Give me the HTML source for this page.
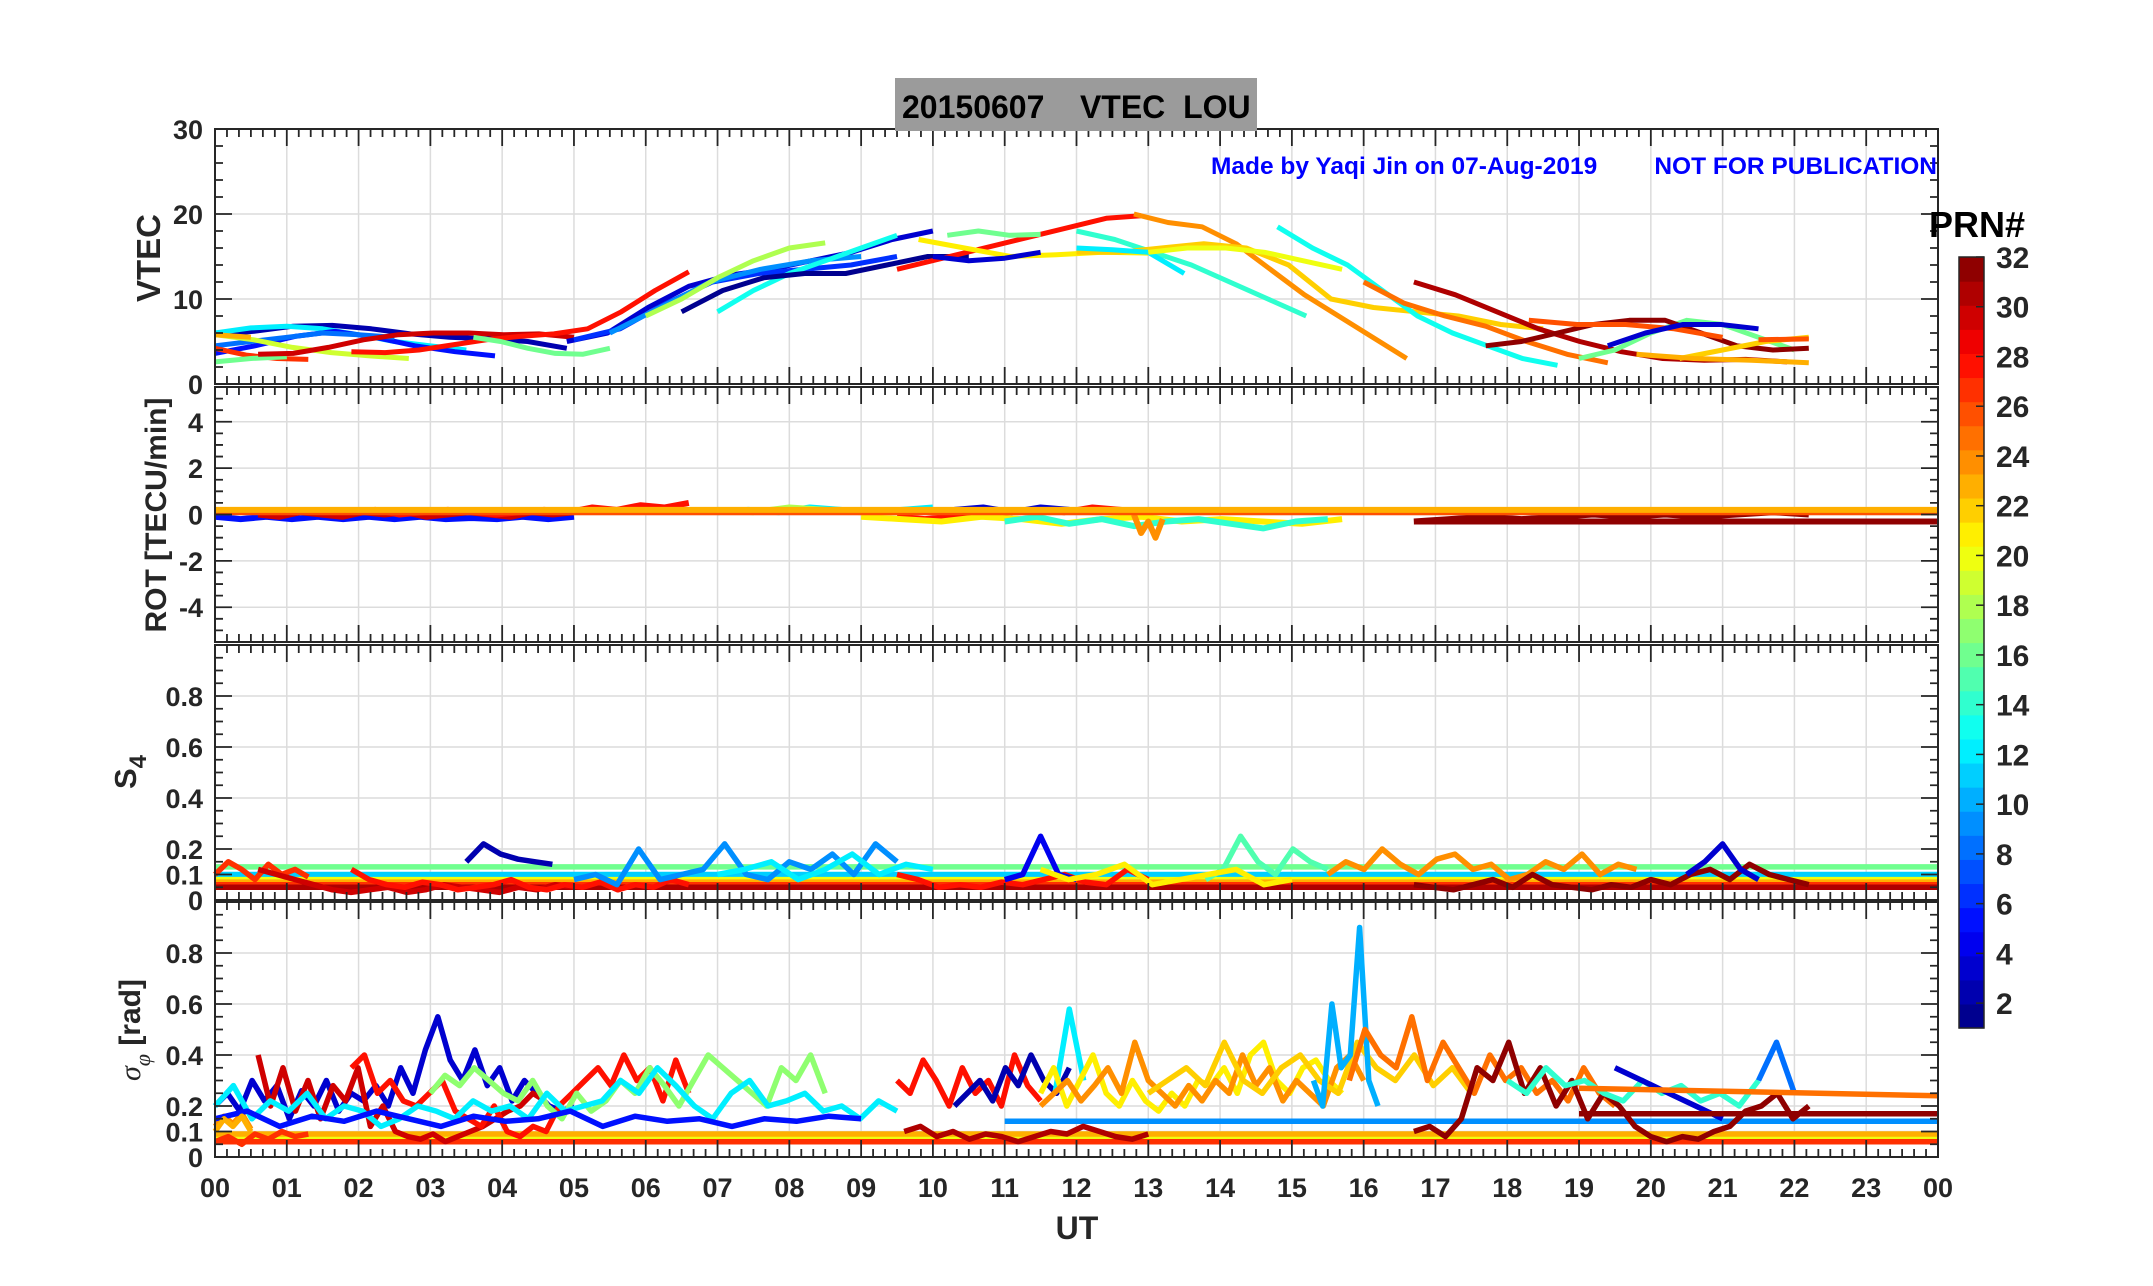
<!DOCTYPE html>
<html><head><meta charset="utf-8"><style>
html,body{margin:0;padding:0;background:#fff}
svg{display:block}
text{font-family:"Liberation Sans",Arial,sans-serif;font-weight:bold}
</style></head><body>
<svg id="chart" width="2153" height="1286" viewBox="0 0 2153 1286" xmlns="http://www.w3.org/2000/svg">
<rect width="2153" height="1286" fill="#fff"/>
<g id="grid"></g><g id="marks"></g><g id="axes"></g>
<rect x="895" y="78" width="362" height="53" fill="#9b9b9b"/>
<text x="902" y="118" font-size="32" fill="#000" style="white-space:pre" xml:space="preserve">20150607    VTEC  LOU</text>
<text x="1211" y="174" font-size="24.5" fill="#0000ff">Made by Yaqi Jin on 07-Aug-2019</text>
<text x="1937" y="174" font-size="24.5" fill="#0000ff" text-anchor="end">NOT FOR PUBLICATION</text>
<text transform="translate(160,258) rotate(-90)" font-size="33" text-anchor="middle" fill="#262626">VTEC</text>
<text transform="translate(166,515) rotate(-90)" font-size="30" text-anchor="middle" fill="#262626">ROT [TECU/min]</text>
<text transform="translate(136,772) rotate(-90)" font-size="31" text-anchor="middle" fill="#262626">S<tspan font-size="24" dy="10">4</tspan></text>
<text transform="translate(140,1030) rotate(-90)" font-size="30" text-anchor="middle" fill="#262626"><tspan font-family="Liberation Serif" font-style="italic" font-weight="normal">σ</tspan><tspan font-family="Liberation Serif" font-style="italic" font-weight="normal" font-size="22" dy="10">φ</tspan><tspan dy="-10"> [rad]</tspan></text>
<text x="1077" y="1239" font-size="32" text-anchor="middle" fill="#262626">UT</text>
<text x="1929" y="237" font-size="36" fill="#000">PRN#</text>
<g id="cbar"></g>
</svg>
<script>
// ---------- data ----------
const hourTicks = ["00","01","02","03","04","05","06","07","08","09","10","11","12","13","14","15","16","17","18","19","20","21","22","23","00"];
const vtecTicks = [0,10,20,30];
const rotTicks = [-4,-2,0,2,4];
const s4Ticks = [0,0.1,0.2,0.4,0.6,0.8];
const sigTicks = [0,0.1,0.2,0.4,0.6,0.8];
const prnTicks = [2,4,6,8,10,12,14,16,18,20,22,24,26,28,30,32];

// VTEC tracks: prn, start hour, end hour, values (TECU)
const vtecPrn = [2,12,5,8,19,23,27,16,30,28,16,3,6,9,13,18,1,28,16,21,3,14,24,22,12,20,13,25,31,16,32,26,3,22,26,23];
const vtecStart = [0,0,0,0,0,0,0,0,0.6,1.9,3.6,4.9,5.0,5.5,7.0,6.0,6.5,9.5,10.2,9.8,10.0,12.0,12.8,12.0,12.0,13.0,14.8,16.0,16.7,19.0,17.7,18.3,19.4,20.4,21.5,19.8];
const vtecEnd = [4.9,3.5,3.9,2.5,2.7,0.5,1.3,1.0,5.0,6.6,5.5,10.0,9.5,9.0,9.5,8.5,10.5,12.9,11.5,13.0,11.5,15.2,16.6,18.5,13.5,15.7,18.7,19.4,21.9,22.0,22.2,21.0,21.5,22.2,22.2,22.2];
const vtecVals = [
 [5.8,6.2,6.8,6.9,6.5,5.9,5.5,5.3,5.0,4.2],
 [6,6.6,6.8,6.5,5.8,5,4.5,4.0],
 [3.6,4.5,5.6,6.2,5.5,4.5,3.8,3.3],
 [4.5,5.0,5.5,6.0,5.8,5.5],
 [5.8,5.2,4.3,3.7,3.3,3.0],
 [5.8,5.5],
 [4.2,3.4,3.0,2.9],
 [2.6,3.0,3.2],
 [3.5,3.6,4.3,5.2,5.8,6,6,5.8,5.9,5.5],
 [3.8,3.7,4.0,4.6,5.2,5.6,5.9,6.5,8.5,11,13.2],
 [5.5,5.0,4.2,3.6,3.5,4.2],
 [5,6,9,11.5,12.8,13.5,14.5,15.5,17,18],
 [5.2,6.5,9.5,12,13,13.5,14,15],
 [6,9,12,13.5,14.5,15],
 [8.5,11,13,14.5,16,17.5],
 [8,10,12.5,14.5,16,16.6],
 [8.5,11,12.5,13,13,14,15,15],
 [13.5,14.5,15.5,16.5,17.5,18.5,19.5,19.8],
 [17.5,18,17.5,17.6],
 [17,16,15,15.2,15.5,15.4],
 [15,14.5,14.8,15.5],
 [18,17,15.5,14,12,10,8],
 [20,19,18.5,16.5,13.5,10.5,8,5.5,3],
 [15.5,15.5,16,16.5,16,14,10,9,8.5,8,7,6.5],
 [16,15.8,15.5,13],
 [15.5,16,16,15.5,14.5,13.5],
 [18.5,16,14,11,8,6,4.5,3,2.2],
 [12,9.5,8,6.8,5,3.5,2.5],
 [12,10.5,8.5,6.5,5,3.8,3,2.8,2.9,2.6],
 [3,4,6,7.5,7,5.5,4],
 [4.5,5,6,7,7.5,7.5,6,4.5,4,4.2],
 [7.5,7,7,6.5,5.5],
 [4.5,6,7,7,6.5],
 [3,4,5,5.5],
 [5.2,5.3],
 [3.5,3,2.8,2.5]
];

// ROT tracks (TECU/min)
const rotPrn = [5,30,28,12,18,28,21,14,24,3,32,26,32,23];
const rotStart = [0,0.6,1.9,7,7,9.5,9,11,12.8,10.3,16.7,0,16.7,0];
const rotEnd = [5,5,6.6,10,9,13,15.7,15.5,13.2,11.9,22.2,24,24,24];
const rotVals = [
 [-0.1,-0.2,-0.1,-0.2,-0.1,-0.2,-0.1,-0.2,-0.1,-0.2,-0.15,-0.2,-0.1,-0.2,-0.1],
 [0,-0.1,0.1,0,-0.1,0.1,0,0.1,-0.1,0,0.1,0,-0.1,0.1,0,0.1],
 [0.1,0.2,0,0.1,0.2,0.1,0,0.1,0.2,0.1,0.3,0.2,0.4,0.3,0.5],
 [0.1,0.2,0.1,0.3,0.2,0.1,0.2,0.3],
 [0.2,0.1,0.3,0.2,0.1],
 [-0.1,-0.2,-0.1,0,0.1,0.2,0.1,0.3,0.2,0.1],
 [-0.1,-0.2,-0.3,-0.1,-0.2,-0.4,-0.2,-0.1,-0.3,-0.2,-0.3,-0.4,-0.2],
 [-0.3,-0.1,-0.4,-0.2,-0.5,-0.3,-0.2,-0.4,-0.6,-0.3,-0.2],
 [0,-0.8,-0.3,-1.0,-0.2],
 [0.2,0.3,0.1,0.3,0.2],
 [-0.3,-0.2,-0.1,-0.2,-0.1,0,-0.1,0,-0.1,0,0.1,0],
 [0.1,0.1],
 [-0.3,-0.3],
 [0.2,0.2]
];

// S4 tracks
const s4Prn = [16,11,20,23,27,31,27,30,28,2,9,12,28,4,15,21,24,32,3];
const s4Start = [0,0,0,0,0,0,0,0.6,1.9,3.5,5,7,9.5,11,13.8,11.5,15.5,16.7,20.5];
const s4End = [24,24,24,24,24,24,1.3,5,6.6,4.7,9.5,10,13,12,15.5,15,19.8,22.2,21.5];
const s4Vals = [
 [0.13,0.13],[0.10,0.10],[0.08,0.08],[0.07,0.07],[0.06,0.06],[0.05,0.05],
 [0.10,0.15,0.12,0.08,0.14,0.10,0.12,0.09],
 [0.12,0.10,0.08,0.06,0.04,0.03,0.04,0.05,0.03,0.04,0.06,0.05,0.04,0.03,0.05,0.04,0.06,0.05],
 [0.12,0.08,0.06,0.05,0.07,0.06,0.04,0.05,0.06,0.08,0.05,0.04,0.06,0.05,0.07,0.04,0.06,0.05,0.08,0.06],
 [0.15,0.22,0.18,0.16,0.15,0.14],
 [0.08,0.10,0.06,0.20,0.08,0.10,0.12,0.22,0.10,0.08,0.15,0.12,0.18,0.10,0.22,0.15],
 [0.10,0.12,0.15,0.08,0.12,0.18,0.10,0.14,0.12],
 [0.10,0.08,0.05,0.06,0.05,0.07,0.06,0.08,0.10,0.07,0.06,0.12,0.08],
 [0.08,0.10,0.25,0.10,0.08],
 [0.08,0.12,0.25,0.15,0.10,0.20,0.15,0.12],
 [0.12,0.08,0.10,0.14,0.06,0.08,0.10,0.12,0.06,0.08],
 [0.10,0.15,0.12,0.20,0.14,0.10,0.16,0.18,0.12,0.14,0.08,0.10,0.15,0.12,0.18,0.10,0.14,0.12],
 [0.06,0.05,0.04,0.06,0.08,0.05,0.10,0.06,0.05,0.04,0.06,0.05,0.08,0.06,0.10,0.12,0.08,0.14,0.10,0.08,0.06],
 [0.10,0.15,0.22,0.12,0.08]
];

// sigma-phi tracks (rad)
const sigPrn = [20,23,27,9,24,3,30,28,17,12,5,27,23,28,2,31,12,21,24,22,10,25,32,14,3,8,25,32];
const sigStart = [0,0,0,11,0,0,0.6,1.9,3,0,0,0,0,9.5,10.3,9.6,11.7,11.5,11.5,13,15.3,15.8,16.7,18,19.5,21.5,19,19];
const sigEnd = [24,24,24,24,0.5,5,4.6,6.6,8.5,9.5,9,1.3,0.5,11.5,11.9,13,12.1,15.7,16,17.5,16.2,19.5,22.2,21.5,21,22,24,24];
const sigVals = [
 [0.08,0.08],[0.09,0.09],[0.06,0.06],[0.14,0.14],
 [0.12,0.16,0.13,0.17,0.11],
 [0.20,0.25,0.18,0.30,0.22,0.28,0.15,0.26,0.20,0.30,0.18,0.25,0.22,0.28,0.20,0.35,0.25,0.42,0.55,0.38,0.30,0.42,0.28,0.35,0.22,0.30,0.25,0.20,0.18,0.20],
 [0.40,0.20,0.35,0.18,0.30,0.15,0.28,0.22,0.35,0.12,0.20,0.10,0.08,0.07,0.09,0.06,0.08,0.10,0.12,0.15,0.18,0.20,0.25,0.22],
 [0.35,0.40,0.25,0.30,0.22,0.20,0.25,0.30,0.18,0.15,0.12,0.20,0.10,0.08,0.12,0.10,0.20,0.25,0.30,0.35,0.28,0.40,0.30,0.35,0.22,0.38,0.25],
 [0.25,0.32,0.28,0.35,0.30,0.25,0.22,0.30,0.20,0.15,0.25,0.18,0.22,0.30,0.25,0.35,0.28,0.20,0.30,0.40,0.35,0.30,0.25,0.20,0.35,0.30,0.40,0.25],
 [0.20,0.28,0.15,0.22,0.18,0.25,0.15,0.20,0.18,0.12,0.15,0.20,0.18,0.15,0.22,0.18,0.20,0.15,0.25,0.18,0.20,0.22,0.30,0.25,0.35,0.28,0.20,0.15,0.25,0.30,0.20,0.22,0.25,0.18,0.20,0.15,0.22,0.18],
 [0.15,0.18,0.12,0.16,0.14,0.18,0.15,0.12,0.16,0.14,0.15,0.18,0.12,0.16,0.14,0.15,0.12,0.15,0.14,0.16,0.15],
 [0.06,0.08,0.05,0.09,0.07,0.10,0.08,0.09],
 [0.10,0.15,0.12,0.16,0.10],
 [0.30,0.25,0.38,0.30,0.20,0.35,0.25,0.30,0.20,0.40,0.28,0.22],
 [0.20,0.25,0.30,0.22,0.35,0.28,0.40,0.30,0.25,0.35],
 [0.10,0.12,0.08,0.10,0.07,0.09,0.08,0.06,0.08,0.10,0.09,0.12,0.10,0.08,0.07,0.09],
 [0.25,0.58,0.30],
 [0.25,0.35,0.20,0.30,0.40,0.25,0.20,0.30,0.22,0.18,0.25,0.20,0.30,0.28,0.35,0.25,0.40,0.45,0.30,0.25,0.35,0.38,0.30,0.25],
 [0.20,0.25,0.30,0.22,0.28,0.35,0.25,0.45,0.30,0.25,0.20,0.28,0.22,0.30,0.25,0.40,0.28,0.35,0.22,0.30,0.25,0.20,0.35,0.40,0.30],
 [0.25,0.30,0.35,0.28,0.45,0.30,0.25,0.35,0.40,0.30,0.25,0.45,0.35,0.30,0.40,0.28,0.35,0.25],
 [0.30,0.20,0.60,0.35,0.40,0.90,0.30,0.20],
 [0.30,0.50,0.40,0.35,0.55,0.30,0.45,0.35,0.25,0.40,0.30,0.35,0.25,0.30,0.22,0.35,0.25,0.20],
 [0.10,0.12,0.08,0.15,0.35,0.30,0.45,0.25,0.35,0.20,0.30,0.15,0.25,0.20,0.12,0.08,0.06,0.08,0.07,0.10,0.12,0.18,0.20,0.25,0.15,0.20],
 [0.30,0.25,0.35,0.28,0.30,0.25,0.22,0.30,0.25,0.28,0.22,0.25,0.20,0.30],
 [0.35,0.30,0.25,0.20,0.15],
 [0.30,0.45,0.25],
 [0.27,0.24],
 [0.17,0.17]
];

// ---------- geometry ----------
const NS = "http://www.w3.org/2000/svg";
const X0 = 215, X1 = 1938;
function xS(h){ return X0 + h*(X1-X0)/24; }
const panels = [
 {name:"vtec", top:129, bot:384, min:0, max:30, major:vtecTicks, minor:2, fmt:v=>String(v)},
 {name:"rot", top:387, bot:642, min:-5.5, max:5.5, major:rotTicks, minor:0.5, fmt:v=>String(v)},
 {name:"s4", top:645, bot:900, min:0, max:1, major:s4Ticks, minor:0.05, fmt:v=>v===0?"0":String(v)},
 {name:"sigma", top:902, bot:1157, min:0, max:1, major:sigTicks, minor:0.05, fmt:v=>v===0?"0":String(v)}
];
function yS(p,v){ return p.bot - (v-p.min)*(p.bot-p.top)/(p.max-p.min); }
function jet(prn){
  const x = (prn-0.5)/32;
  const c = t => Math.round(255*Math.max(0,Math.min(1,t)));
  return `rgb(${c(1.5-Math.abs(4*x-3))},${c(1.5-Math.abs(4*x-2))},${c(1.5-Math.abs(4*x-1))})`;
}
function mk(tag, attrs, parent){
  const e = document.createElementNS(NS, tag);
  for(const k in attrs) e.setAttribute(k, attrs[k]);
  parent.appendChild(e); return e;
}
const gGrid = document.getElementById("grid"), gMarks = document.getElementById("marks"), gAxes = document.getElementById("axes");

panels.forEach(p=>{
  for(let h=1; h<24; h++){
    const l = mk("line",{x1:xS(h),x2:xS(h),y1:p.top,y2:p.bot,stroke:"#dcdcdc","stroke-width":1.5},gGrid);
    
    
  }
  p.major.forEach(v=>{
    if(v===p.min||v===p.max) return;
    const l = mk("line",{x1:X0,x2:X1,y1:yS(p,v),y2:yS(p,v),stroke:"#dcdcdc","stroke-width":1.5},gGrid);
    
    
  });
  const frame = mk("rect",{x:X0,y:p.top,width:X1-X0,height:p.bot-p.top,fill:"none",stroke:"#262626","stroke-width":2},gAxes);
  
  
  let d = "";
  for(let i=0;i<=144;i++){
    const x = xS(i/6), L = (i%6===0)?17:8;
    d += `M${x},${p.top}v${L}M${x},${p.bot}v${-L}`;
  }
  const n = Math.round((p.max-p.min)/p.minor);
  for(let i=0;i<=n;i++){
    const v = p.min + i*p.minor;
    const isMaj = p.major.some(m=>Math.abs(m-v)<1e-6);
    const y = yS(p,v), L = isMaj?17:8;
    d += `M${X0},${y}h${L}M${X1},${y}h${-L}`;
  }
  const tk = mk("path",{d:d,stroke:"#262626","stroke-width":1.8,fill:"none"},gAxes);
  
  
  p.major.forEach(v=>{
    const t = mk("text",{x:203,y:yS(p,v)+10,"font-size":27,"text-anchor":"end",fill:"#262626"},gAxes);
    t.textContent = p.fmt(v);
    
    
  });
});
hourTicks.forEach((lab,i)=>{
  const t = mk("text",{x:xS(i),y:1197,"font-size":27,"text-anchor":"middle",fill:"#262626"},gAxes);
  t.textContent = lab;
  
  
});

function drawTracks(p, prns, starts, ends, vals, width, clipName){
  prns.forEach((prn,i)=>{
    const v = vals[i], n = v.length;
    const pts = v.map((val,j)=>{
      const h = starts[i] + (n>1 ? j*(ends[i]-starts[i])/(n-1) : 0);
      return xS(h).toFixed(1)+","+Math.max(p.top,Math.min(p.bot,yS(p,val))).toFixed(1);
    }).join(" ");
    const pl = mk("polyline",{points:pts,fill:"none",stroke:jet(prn),"stroke-width":width,"stroke-linejoin":"round","stroke-linecap":"butt"},gMarks);
    
    
  });
}
drawTracks(panels[0], vtecPrn, vtecStart, vtecEnd, vtecVals, 5, 'vtec-track');
drawTracks(panels[1], rotPrn, rotStart, rotEnd, rotVals, 6, 'rot-track');
drawTracks(panels[2], s4Prn, s4Start, s4End, s4Vals, 5.5, 's4-track');
drawTracks(panels[3], sigPrn, sigStart, sigEnd, sigVals, 5.5, 'sigma-track');

const cb = document.getElementById("cbar");
const CBX = 1959, CBW = 25, CBT = 257, CBB = 1028;
const segH = (CBB-CBT)/32;
for(let i=1;i<=32;i++){
  const r = mk("rect",{x:CBX,y:CBB-i*segH,width:CBW,height:segH+0.6,fill:jet(i)},cb);
  
  
}
const cbf = mk("rect",{x:CBX,y:CBT,width:CBW,height:CBB-CBT,fill:"none",stroke:"#262626","stroke-width":1.5},cb);


function cbY(v){ return CBB - (v-1)*(CBB-CBT)/31; }
prnTicks.forEach(v=>{
  const l = mk("line",{x1:CBX+CBW-8,x2:CBX+CBW,y1:cbY(v),y2:cbY(v),stroke:"#262626","stroke-width":1.5},cb);
  
  
  const t = mk("text",{x:1996,y:cbY(v)+11,"font-size":30,fill:"#262626"},cb);
  t.textContent = String(v);
  
  
});
</script>
</body></html>
